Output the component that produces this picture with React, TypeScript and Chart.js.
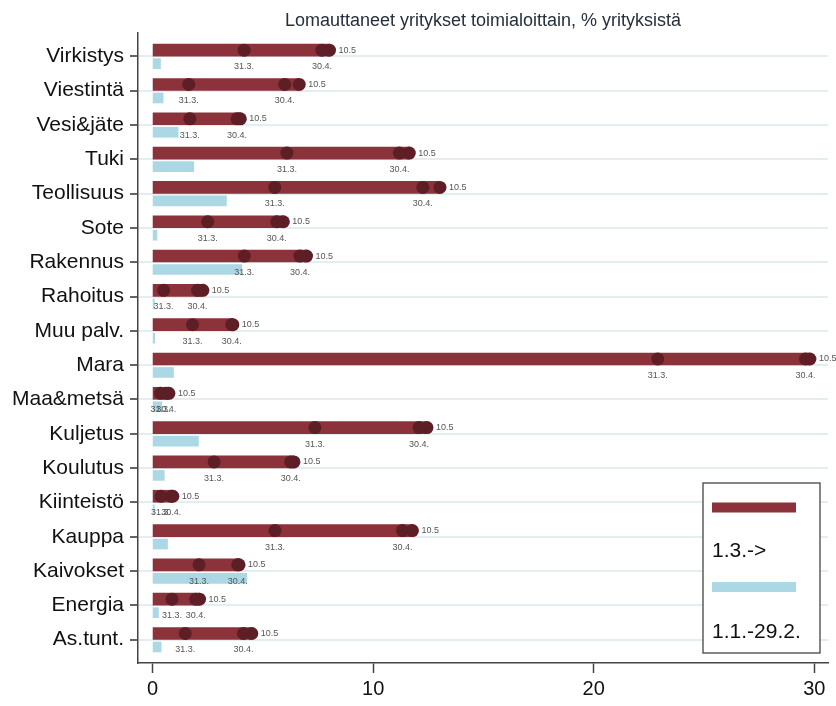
import React, { useEffect, useRef } from 'react';
import { Chart, registerables } from 'chart.js';

Chart.register(...registerables);

// ---- data ----
const categories = [
  'Virkistys', 'Viestintä', 'Vesi&jäte', 'Tuki', 'Teollisuus', 'Sote', 'Rakennus', 'Rahoitus',
  'Muu palv.', 'Mara', 'Maa&metsä', 'Kuljetus', 'Koulutus', 'Kiinteistö', 'Kauppa', 'Kaivokset',
  'Energia', 'As.tunt.',
];
// % of firms with layoffs, 1.1.-29.2.
const janFeb = [0.36, 0.48, 1.16, 1.87, 3.35, 0.2, 4.04, 0.08, 0.1, 0.95, 0.42, 2.08, 0.53, 0.08, 0.68, 4.27, 0.27, 0.39];
// cumulative from 1.3. at 31.3.
const mar31 = [4.15, 1.64, 1.69, 6.09, 5.54, 2.5, 4.16, 0.5, 1.81, 22.9, 0.36, 7.36, 2.79, 0.38, 5.55, 2.11, 0.88, 1.48];
// cumulative from 1.3. at 30.4.
const apr30 = [7.68, 5.99, 3.83, 11.19, 12.25, 5.63, 6.68, 2.04, 3.59, 29.6, 0.62, 12.08, 6.26, 0.85, 11.33, 3.86, 1.96, 4.12];
// cumulative from 1.3. at 10.5
const may10 = [8.02, 6.65, 3.98, 11.64, 13.03, 5.93, 6.98, 2.28, 3.64, 29.8, 0.74, 12.44, 6.41, 0.92, 11.78, 3.92, 2.13, 4.5];
const dotLabels = ['31.3.', '30.4.', '10.5'];
const legendLabels = ['1.3.->', '1.1.-29.2.'];
const xTicks = [0, 10, 20, 30];
const titleText = 'Lomauttaneet yritykset toimialoittain, % yrityksistä';

// ---- styles ----
const FONT = '"Liberation Sans", Arial, Helvetica, sans-serif';
const RED = '#8c323a';
const BLUE = '#acd8e6';
const DOT = '#5e1e25';
const RED_SHIFT = 0.18; // red row sits above the category line
const BLUE_SHIFT = 0.213; // blue row sits below it

const W = 836;
const H = 706;

const overlay = {
  id: 'overlay',
  afterDatasetsDraw(chart: any) {
    const ctx = chart.ctx;
    ctx.save();
    ctx.font = `9px ${FONT}`;
    ctx.fillStyle = '#555';
    for (let k = 0; k < 3; k++) {
      const meta = chart.getDatasetMeta(k);
      meta.data.forEach((pt: any) => {
        if (k < 2) {
          ctx.textAlign = 'center';
          ctx.textBaseline = 'middle';
          ctx.fillText(dotLabels[k], pt.x, pt.y + 16.5);
        } else {
          ctx.textAlign = 'left';
          ctx.textBaseline = 'middle';
          ctx.fillText(dotLabels[k], pt.x + 9, pt.y);
        }
      });
    }
    ctx.restore();
  },
  afterDraw(chart: any) {
    const ctx = chart.ctx;
    const area = chart.chartArea;
    ctx.save();
    // title
    ctx.font = `18px ${FONT}`;
    ctx.fillStyle = '#25303c';
    ctx.textAlign = 'center';
    ctx.textBaseline = 'alphabetic';
    ctx.fillText(titleText, (area.left + area.right) / 2, 26);

    // legend box
    const bx = 703, by = 483, bw = 117, bh = 170;
    ctx.fillStyle = '#fff';
    ctx.fillRect(bx, by, bw, bh);
    ctx.strokeStyle = '#444';
    ctx.lineWidth = 1.3;
    ctx.strokeRect(bx, by, bw, bh);
    ctx.fillStyle = RED;
    ctx.fillRect(712, 502.5, 84, 10);
    ctx.fillStyle = BLUE;
    ctx.fillRect(712, 582, 84, 10);
    ctx.fillStyle = '#111';
    ctx.font = `21px ${FONT}`;
    ctx.textAlign = 'left';
    ctx.textBaseline = 'middle';
    ctx.fillText(legendLabels[0], 712, 551);
    ctx.fillText(legendLabels[1], 712, 632);
    ctx.restore();
  },
};

export default function App() {
  const ref = useRef<HTMLCanvasElement | null>(null);

  useEffect(() => {
    if (!ref.current) return;
    const dotData = (arr: number[]) => arr.map((v, i) => ({ x: v, y: i - RED_SHIFT }));
    const dotSet = (k: number, arr: number[]) =>
      ({
        type: 'scatter',
        label: dotLabels[k],
        data: dotData(arr),
        pointRadius: 6.5,
        pointBackgroundColor: DOT,
        pointBorderWidth: 0,
        order: 0,
      }) as any;
    const chart = new Chart(ref.current, {
      type: 'bar',
      data: {
        datasets: [
          dotSet(0, mar31),
          dotSet(1, apr30),
          dotSet(2, may10),
          {
            type: 'bar',
            label: legendLabels[0],
            data: may10.map((v, i) => ({ x: v, y: i - RED_SHIFT })),
            backgroundColor: RED,
            barThickness: 12,
            grouped: false,
            indexAxis: 'y',
            order: 1,
          } as any,
          {
            type: 'bar',
            label: legendLabels[1],
            data: janFeb.map((v, i) => ({ x: v, y: i + BLUE_SHIFT })),
            backgroundColor: BLUE,
            barThickness: 10,
            grouped: false,
            indexAxis: 'y',
            order: 1,
          } as any,
        ],
      },
      options: {
        indexAxis: 'y',
        animation: false,
        responsive: false,
        devicePixelRatio: 1,
        layout: { padding: { top: 33, right: 8, left: 0, bottom: 0 } },
        plugins: {
          legend: { display: false },
          tooltip: { enabled: false },
          title: { display: false },
        },
        scales: {
          x: {
            type: 'linear',
            position: 'bottom',
            offset: false,
            min: -0.66,
            max: 30.62,
            afterBuildTicks: (s: any) => {
              s.ticks = xTicks.map((v) => ({ value: v }));
            },
            afterFit: (s: any) => {
              s.height = 43;
            },
            grid: {
              offset: false,
              drawOnChartArea: false,
              drawTicks: true,
              tickLength: 10,
              tickColor: '#444',
              tickWidth: 1.5,
            },
            border: { display: true, color: '#444', width: 1.5 },
            ticks: {
              font: { family: FONT, size: 20 },
              color: '#111',
              padding: 4,
              maxRotation: 0,
              autoSkip: false,
            },
          },
          y: {
            type: 'linear',
            position: 'left',
            offset: false,
            min: -0.68,
            max: 17.68,
            reverse: true,
            afterBuildTicks: (s: any) => {
              s.ticks = categories.map((_, i) => ({ value: i }));
            },
            afterFit: (s: any) => {
              s.width = 138;
            },
            grid: {
              offset: false,
              drawOnChartArea: true,
              color: '#e4edf1',
              lineWidth: 2,
              drawTicks: true,
              tickLength: 8,
              tickColor: '#333',
              tickWidth: 1.5,
            },
            border: { display: true, color: '#444', width: 1.5 },
            ticks: {
              font: { family: FONT, size: 21 },
              color: '#111',
              padding: 6,
              autoSkip: false,
              callback: (v: any) => categories[v as number] ?? '',
            },
          },
        },
      } as any,
      plugins: [overlay],
    });
    return () => chart.destroy();
  }, []);

  return (
    <div style={{ position: 'fixed', left: 0, top: 0, width: W, height: H, background: '#fff' }}>
      <canvas ref={ref} width={W} height={H} style={{ display: 'block', width: W, height: H }} />
    </div>
  );
}
